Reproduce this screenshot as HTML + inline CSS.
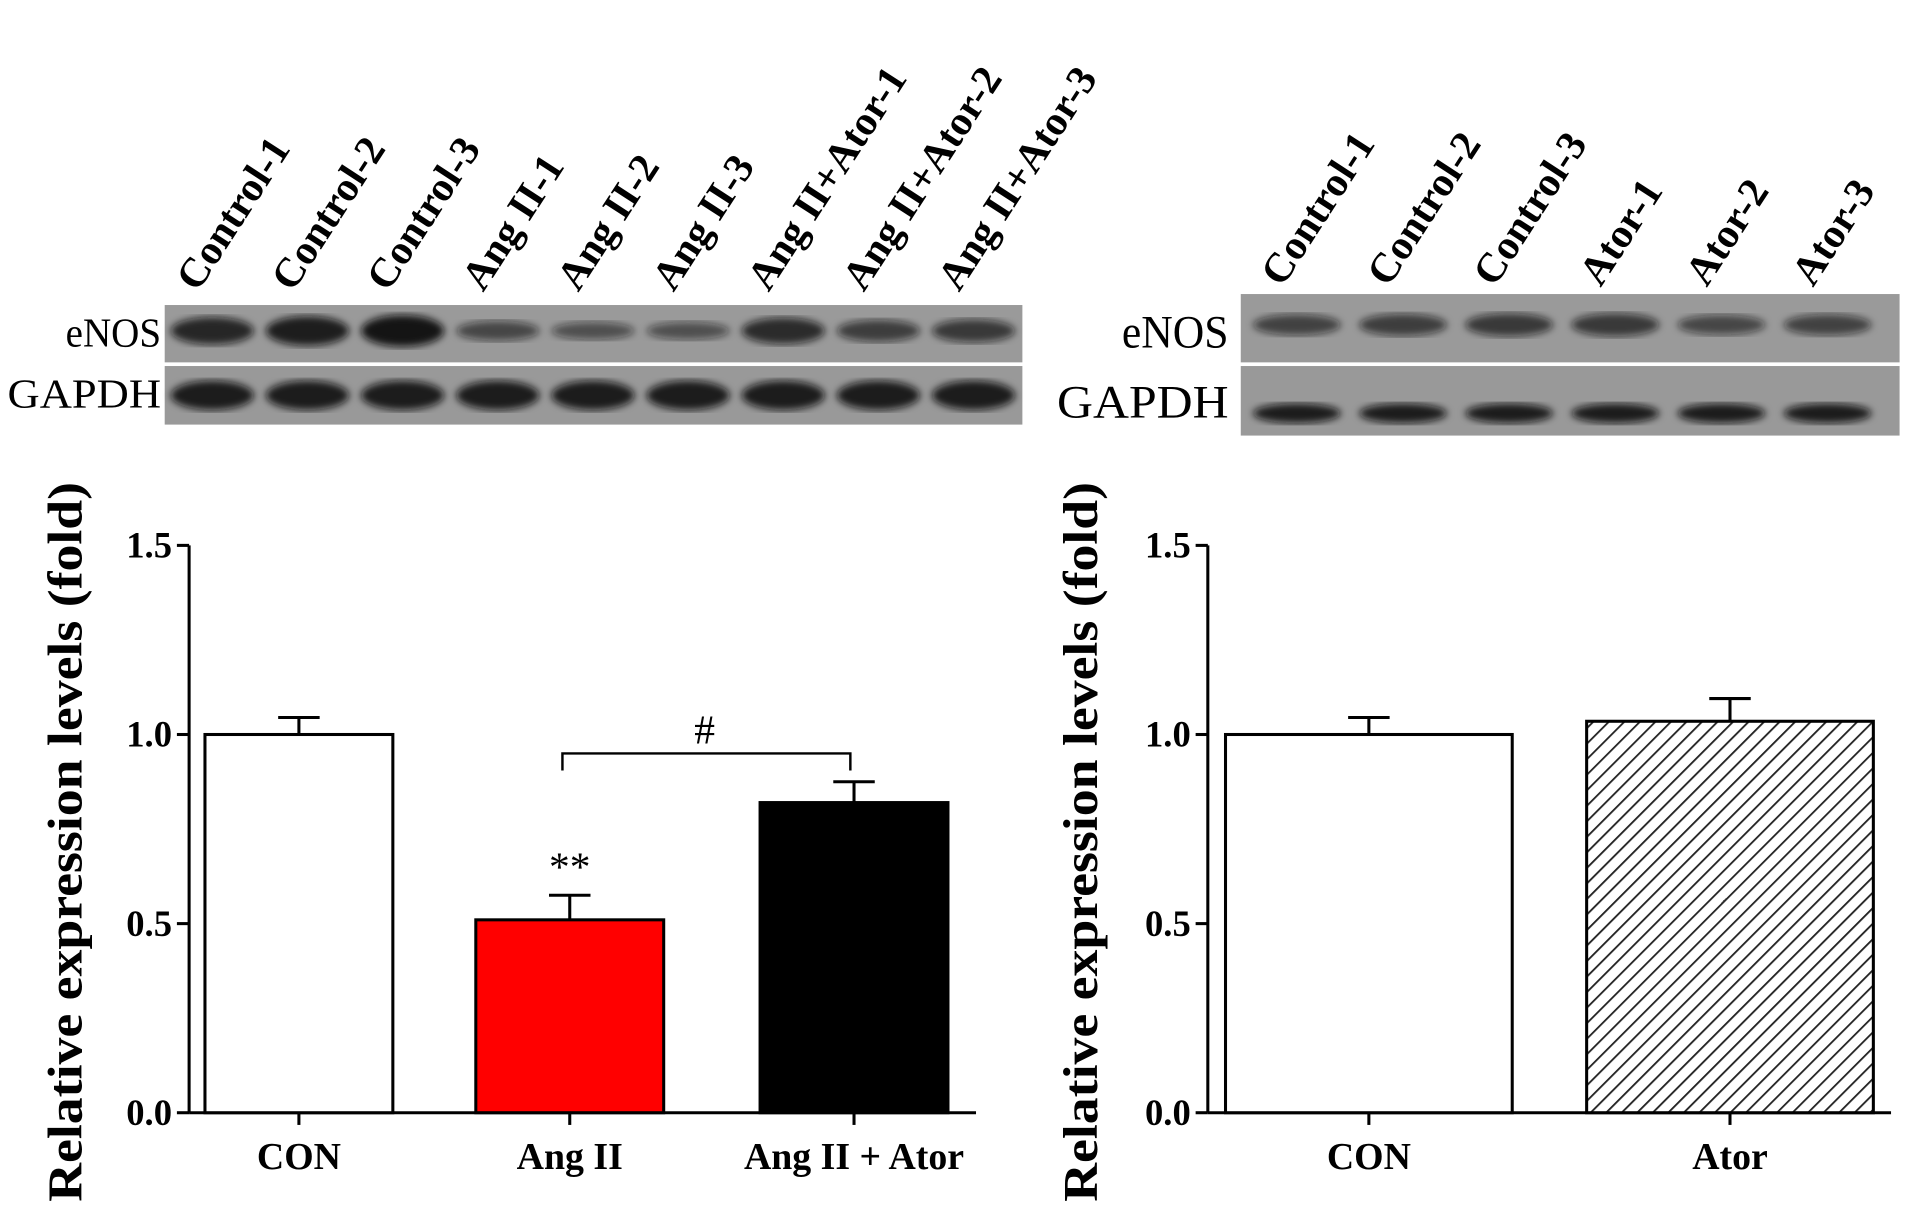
<!DOCTYPE html>
<html><head><meta charset="utf-8"><style>
html,body{margin:0;padding:0;background:#fff;}
svg{display:block;}
text{font-family:"Liberation Serif",serif;}
</style></head><body>
<svg id="fig" width="1913" height="1214" viewBox="0 0 1568 995" preserveAspectRatio="none" xmlns="http://www.w3.org/2000/svg">
<defs>
<pattern id="hatch" patternUnits="userSpaceOnUse" width="9" height="9" patternTransform="rotate(45)">
<rect width="9" height="9" fill="#fff"/><line x1="0" y1="0" x2="0" y2="9" stroke="#222" stroke-width="3"/>
</pattern>
<filter id="blur"><feGaussianBlur stdDeviation="3"/></filter>
</defs>
<g id="blots"></g>
<g id="charts"></g>
</svg>
<script>
// Left chart data
const leftCategories = ["CON", "Ang II", "Ang II + Ator"];
const leftValues = [1.0, 0.51, 0.82];
const leftErrors = [0.045, 0.065, 0.055];
// Right chart data
const rightCategories = ["CON", "Ator"];
const rightValues = [1.0, 1.035];
const rightErrors = [0.045, 0.06];
const yTicks = ["0.0", "0.5", "1.0", "1.5"];
const leftLanes = ["Control-1","Control-2","Control-3","Ang II-1","Ang II-2","Ang II-3","Ang II+Ator-1","Ang II+Ator-2","Ang II+Ator-3"];
const rightLanes = ["Control-1","Control-2","Control-3","Ator-1","Ator-2","Ator-3"];
const leftEnos = [0.8,0.9,1.0,0.45,0.35,0.35,0.75,0.55,0.6];
const rightEnos = [0.5,0.55,0.6,0.6,0.45,0.5];

const NS="http://www.w3.org/2000/svg";
function mk(tag,attrs,parent){const e=document.createElementNS(NS,tag);for(const k in attrs)e.setAttribute(k,attrs[k]);parent.appendChild(e);return e;}
const blots=document.getElementById('blots');
const charts=document.getElementById('charts');

function blotPanel(x0,x1,lanes,enos,eY,eH,gY,gH,eLabelX,eLabelY,gLabelY,fs,laneX0,laneStep,bandW){
  let r=mk('rect',{x:x0,y:eY,width:x1-x0,height:eH,fill:'#9a9a9a'},blots);
  
  
  r=mk('rect',{x:x0,y:gY,width:x1-x0,height:gH,fill:'#999'},blots);
  
  
  let t=mk('text',{x:eLabelX,y:eLabelY,'font-size':fs,'text-anchor':'end',textLength:fs*2.3,lengthAdjust:'spacingAndGlyphs'},blots);t.textContent='eNOS';
  
  
  t=mk('text',{x:eLabelX,y:gLabelY,'font-size':fs,'text-anchor':'end',textLength:fs*3.7,lengthAdjust:'spacingAndGlyphs'},blots);t.textContent='GAPDH';
  
  
  lanes.forEach((l,i)=>{
    const cx=laneX0+i*laneStep;
    const a=enos[i];
    let e=mk('ellipse',{cx:cx,cy:eY+eH*0.45,rx:bandW/2,ry:4+a*9,fill:'#111','fill-opacity':0.35+a*0.6,filter:'url(#blur)'},blots);
    
    
    e=mk('ellipse',{cx:cx,cy:gY+gH*(x0>900?0.68:0.5),rx:bandW/2,ry:x0>900?8:12,fill:'#111','fill-opacity':0.9,filter:'url(#blur)'},blots);
    
    
    const by=x0>900?236:240;
    const lt=mk('text',{x:cx-12,y:by,'font-size':34,'font-weight':'bold',transform:`rotate(-57 ${cx-12} ${by})`},blots);
    lt.textContent=l;
    
    
  });
}
blotPanel(135,838,leftLanes,leftEnos,250,47,300,48,132,284,334,34,174,78,68);
blotPanel(1017,1557,rightLanes,rightEnos,241,56,300,57,1007,285,342,38,1063,87,72);

const y0=912, unit=310;
const ys=v=>y0-v*unit;
function chart(axX,axEnd,cats,vals,errs,centers,bw,fills,titleX){
  const g=mk('g',{},charts);
  
  
  mk('line',{x1:axX,y1:ys(1.5),x2:axX,y2:y0,stroke:'#000','stroke-width':2.5},g);
  mk('line',{x1:axX,y1:y0,x2:axEnd,y2:y0,stroke:'#000','stroke-width':2.5},g);
  yTicks.forEach(tk=>{
    const y=ys(parseFloat(tk));
    mk('line',{x1:axX-10,y1:y,x2:axX,y2:y,stroke:'#000','stroke-width':2.5},g);
    const t=mk('text',{x:axX-14,y:y+10,'font-size':30,'font-weight':'bold','text-anchor':'end'},g);t.textContent=tk;
    
    
  });
  const yt=mk('text',{x:0,y:0,'font-size':40,'font-weight':'bold','text-anchor':'middle',textLength:590,lengthAdjust:'spacingAndGlyphs',transform:`translate(${titleX},690) rotate(-90)`},g);
  yt.textContent='Relative expression levels (fold)';
  
  
  cats.forEach((c,i)=>{
    const cx=centers[i];
    const top=ys(vals[i]);
    const et=ys(vals[i]+errs[i]);
    mk('line',{x1:cx,y1:top,x2:cx,y2:et,stroke:'#000','stroke-width':2.5},g);
    mk('line',{x1:cx-17,y1:et,x2:cx+17,y2:et,stroke:'#000','stroke-width':2.5},g);
    const b=mk('rect',{x:cx-bw/2,y:top,width:bw,height:y0-top,fill:fills[i],stroke:'#000','stroke-width':2.5},g);
    
    
    mk('line',{x1:cx,y1:y0,x2:cx,y2:y0+10,stroke:'#000','stroke-width':2.5},g);
    const t=mk('text',{x:cx,y:958,'font-size':31,'font-weight':'bold','text-anchor':'middle'},g);t.textContent=c;
    
    
  });
  return g;
}
const lc=[245,467,700];
const gl=chart(155,800,leftCategories,leftValues,leftErrors,lc,154,['#fff','#f00','#000'],67);
const gr=chart(990,1550,rightCategories,rightValues,rightErrors,[1122,1418],235,['#fff','url(#hatch)'],899);
// significance
let s=mk('text',{x:lc[1],y:ys(leftValues[1]+leftErrors[1])-12,'font-size':34,'text-anchor':'middle'},gl);s.textContent='**';


const by=ys(0.95);
const br=mk('path',{d:`M${lc[1]-6} ${by+14} V${by} H${lc[2]-3} V${by+14}`,fill:'none',stroke:'#000','stroke-width':2},gl);


s=mk('text',{x:(lc[1]+lc[2])/2-6,y:by-8,'font-size':34,'text-anchor':'middle'},gl);s.textContent='#';


</script>
</body></html>
